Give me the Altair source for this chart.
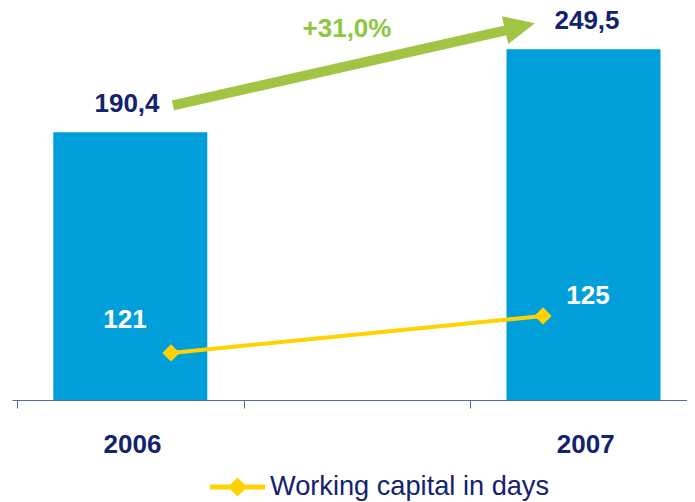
import altair as alt
import pandas as pd

# ---- data ----
categories = ["2006", "", "2007"]          # axis slots (middle slot is empty)
years = ["2006", "2007"]
year_num = [2006, 2007]
revenue = [190.4, 249.5]
revenue_labels = ["190,4", "249,5"]
wc_days = [121, 125]
series_name = "Working capital in days"
growth_label = "+31,0%"

# ---- styles ----
BLUE = "#009FDA"
NAVY = "#13236E"
YELLOW = "#FFD200"
GREEN = "#A2C444"
GREEN_TXT = "#8DC63F"
AXIS = "#5B6BA6"
FONT = "Liberation Sans"

df = pd.DataFrame({
    "year": years,
    "yr": year_num,
    "slot": [categories.index(y) for y in years],
    "revenue": revenue,
    "rev_label": revenue_labels,
    "wc": wc_days,
    "series": [series_name] * len(years),
})

arrow_df = pd.DataFrame({
    "x0": [year_num[0]], "x1": [year_num[1]],
    "y0": [revenue[0]], "y1": [revenue[1]],
    "xm": [sum(year_num) / 2], "ym": [max(revenue)],
    "label": [growth_label],
})

W, H = 675, 388
STEP = 230      # px per axis slot
YEAR_PX = 372   # px per year on the line's own axis
X0 = 2005.5726
slot_scale = alt.Scale(domain=[0, W / STEP], nice=False, zero=False)
yq = alt.Scale(domain=[0, 276], nice=False, zero=False)
xq = alt.Scale(domain=[X0, X0 + W / YEAR_PX], nice=False, zero=False)
yl = alt.Scale(domain=[115.9, 157.9], nice=False, zero=False)

label_expr = " : ".join(
    [f"datum.value == {i} ? '{c}'" for i, c in enumerate(categories)] + ["''"]
)

base = alt.Chart(df).transform_calculate(center="datum.slot + 0.5")

bars = base.mark_bar(color=BLUE, width=154).encode(
    x=alt.X("center:Q", scale=slot_scale, axis=alt.Axis(
        title=None, values=list(range(len(categories))), labelOffset=STEP / 2,
        tickSize=8, tickColor=AXIS, tickWidth=1,
        domainColor=AXIS, domainWidth=1, grid=False, labelAngle=0,
        labelAlign="center", labelFlush=False, labelBound=False, labelOverlap=False,
        labelFont=FONT, labelFontSize=26, labelFontWeight="bold", labelColor=NAVY,
        labelPadding=23, labelExpr=label_expr)),
    y=alt.Y("revenue:Q", scale=yq, axis=None),
)

bar_lbl = base.mark_text(
    font=FONT, fontSize=26, fontWeight="bold", color=NAVY, baseline="middle", dy=-28
).encode(
    x=alt.X("center:Q", scale=slot_scale, axis=None),
    y=alt.Y("revenue:Q", scale=yq, axis=None),
    text="rev_label:N",
)

line = alt.Chart(df).mark_line(color=YELLOW, strokeWidth=4).encode(
    x=alt.X("yr:Q", scale=xq, axis=None),
    y=alt.Y("wc:Q", scale=yl, axis=None),
)

LEG_PATH = ("M-1,-0.09L-0.255,-0.09L0,-0.345L0.255,-0.09L1,-0.09L1,0.09"
            "L0.255,0.09L0,0.345L-0.255,0.09L-1,0.09Z")

pts = alt.Chart(df).mark_point(shape="diamond", filled=True, size=300, opacity=1).encode(
    x=alt.X("yr:Q", scale=xq, axis=None),
    y=alt.Y("wc:Q", scale=yl, axis=None),
    color=alt.Color("series:N", scale=alt.Scale(domain=[series_name], range=[YELLOW]),
                    legend=alt.Legend(title=None, orient="none", legendX=198, legendY=447.5,
                                      symbolType=LEG_PATH, symbolSize=3025,
                                      symbolStrokeWidth=0, symbolFillColor=YELLOW,
                                      labelFont=FONT, labelFontSize=27.2, labelColor=NAVY,
                                      labelOffset=5, padding=0, labelLimit=0)),
)


def wc_label(i, dx, dy):
    return base.transform_filter(alt.datum.year == years[i]).mark_text(
        font=FONT, fontSize=26, fontWeight="bold", color="white",
        baseline="middle", dx=dx, dy=dy
    ).encode(
        x=alt.X("center:Q", scale=slot_scale, axis=None),
        y=alt.Y("wc:Q", scale=yl, axis=None),
        text="wc:Q",
    )


lbl1 = wc_label(0, -2, -33)
lbl2 = wc_label(1, 1, -20)

shaft = alt.Chart(arrow_df).mark_rule(
    color=GREEN, strokeWidth=10, xOffset=2, yOffset=-27, x2Offset=-33, y2Offset=-20
).encode(
    x=alt.X("x0:Q", scale=xq, axis=None), x2="x1",
    y=alt.Y("y0:Q", scale=yq, axis=None), y2="y1",
)

HEAD_PATH = "M1,0L-1,-0.93L-1,0.93Z"
head = alt.Chart(arrow_df).mark_point(
    shape=HEAD_PATH, filled=True, color=GREEN, size=936, angle=347.2,
    xOffset=-23, yOffset=-22.6, opacity=1, strokeWidth=0
).encode(
    x=alt.X("x1:Q", scale=xq, axis=None),
    y=alt.Y("y1:Q", scale=yq, axis=None),
)

growth = alt.Chart(arrow_df).mark_text(
    font=FONT, fontSize=26, fontWeight="bold", color=GREEN_TXT,
    baseline="middle", dx=-10, dy=-20
).encode(
    x=alt.X("xm:Q", scale=xq, axis=None),
    y=alt.Y("ym:Q", scale=yq, axis=None),
    text="label:N",
)

chart = alt.layer(bars, bar_lbl, line, pts, lbl1, lbl2, shaft, head, growth).resolve_scale(
    x="independent", y="independent"
).properties(
    width=W, height=H,
    padding={"left": 4, "top": 4, "right": 0, "bottom": 102},
    autosize=alt.AutoSizeParams(type="none"),
).configure_view(stroke=None)

chart.save("out.html", embed_options={"renderer": "svg", "actions": False})
